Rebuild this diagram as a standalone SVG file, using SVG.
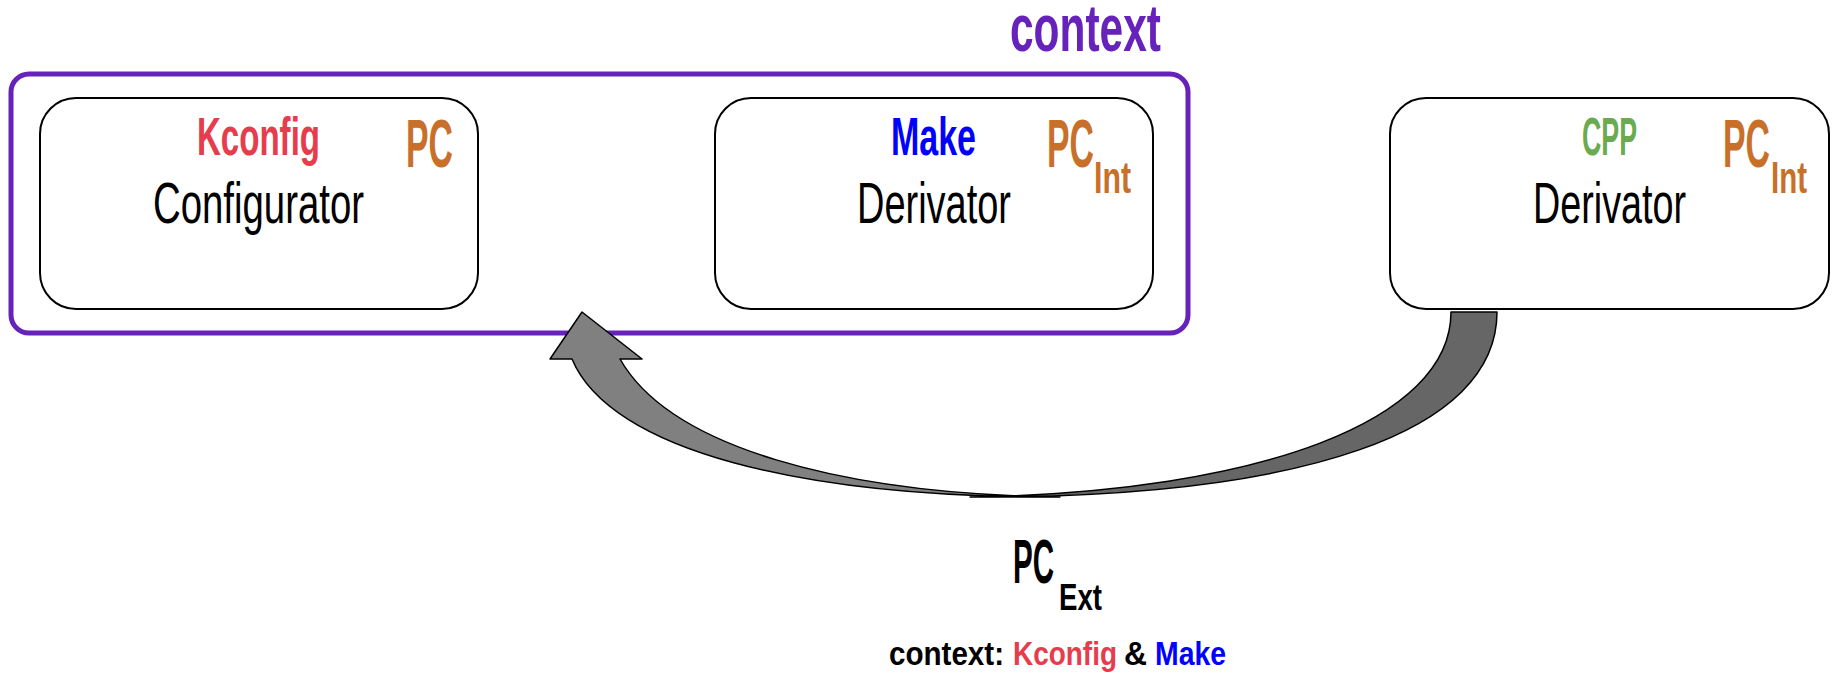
<svg xmlns="http://www.w3.org/2000/svg" width="1837" height="683" viewBox="0 0 1837 683">
<style>
text{font-family:"Liberation Sans",Arial,sans-serif}
.b{font-weight:bold}
.box{fill:#fff;stroke:#000;stroke-width:2}
.pc{fill:#c8702a;font-weight:bold}
.main{fill:#000;font-size:57px}
.red{fill:#e63c4c}
.blue{fill:#0000ff}
.arrow{stroke:#000;stroke-width:1.5;stroke-linejoin:round}
</style>
<rect width="1837" height="683" fill="#fff"/>
<g id="context">
<rect x="11" y="74" width="1177" height="259" rx="18" fill="#fff" stroke="#6622bb" stroke-width="5"/>
<text x="1010" y="51" class="b" font-size="66" fill="#6622bb" textLength="151" lengthAdjust="spacingAndGlyphs">context</text>
</g>
<g id="configurator">
<rect class="box" x="40" y="98" width="438" height="211" rx="36"/>
<text x="197" y="155" class="b red" font-size="53" textLength="123" lengthAdjust="spacingAndGlyphs">Kconfig</text>
<text x="406" y="167" class="pc" font-size="68" textLength="47" lengthAdjust="spacingAndGlyphs">PC</text>
<text x="153" y="223" class="main" textLength="211" lengthAdjust="spacingAndGlyphs">Configurator</text>
</g>
<g id="make-derivator">
<rect class="box" x="715" y="98" width="438" height="211" rx="36"/>
<text x="891" y="155" class="b blue" font-size="53" textLength="85" lengthAdjust="spacingAndGlyphs">Make</text>
<text x="1047" y="167" class="pc" font-size="68" textLength="47" lengthAdjust="spacingAndGlyphs">PC</text>
<text x="1094" y="193" class="pc" font-size="44" textLength="37" lengthAdjust="spacingAndGlyphs">Int</text>
<text x="857" y="223" class="main" textLength="154" lengthAdjust="spacingAndGlyphs">Derivator</text>
</g>
<g id="cpp-derivator">
<rect class="box" x="1390" y="98" width="439" height="211" rx="36"/>
<text x="1582" y="155" class="b" fill="#6aaa50" font-size="53" textLength="55" lengthAdjust="spacingAndGlyphs">CPP</text>
<text x="1723" y="167" class="pc" font-size="68" textLength="47" lengthAdjust="spacingAndGlyphs">PC</text>
<text x="1771" y="193" class="pc" font-size="44" textLength="36" lengthAdjust="spacingAndGlyphs">Int</text>
<text x="1533" y="223" class="main" textLength="153" lengthAdjust="spacingAndGlyphs">Derivator</text>
</g>
<g id="connectors">
<path class="arrow" d="M 1451 312 L 1497 312 C 1497 432 1305 498 970 497 C 1262 492 1451 420 1451 312 Z" fill="#666"/>
<path class="arrow" d="M 550 359 L 582 312 L 642 359 L 620 359 C 670 447 840 494 1060 497 C 800 498 610 450 572 359 Z" fill="#808080"/>
</g>
<g id="pc-ext">
<text x="1013" y="583" class="b" font-size="63" textLength="41" lengthAdjust="spacingAndGlyphs">PC</text>
<text x="1059" y="610" class="b" font-size="36" textLength="43" lengthAdjust="spacingAndGlyphs">Ext</text>
<text y="665" class="b" font-size="34"><tspan x="889" textLength="115" lengthAdjust="spacingAndGlyphs">context:</tspan><tspan x="1013" class="red" textLength="104" lengthAdjust="spacingAndGlyphs">Kconfig</tspan><tspan x="1124" textLength="23" lengthAdjust="spacingAndGlyphs">&amp;</tspan><tspan x="1155" class="blue" textLength="71" lengthAdjust="spacingAndGlyphs">Make</tspan></text>
</g>
</svg>
